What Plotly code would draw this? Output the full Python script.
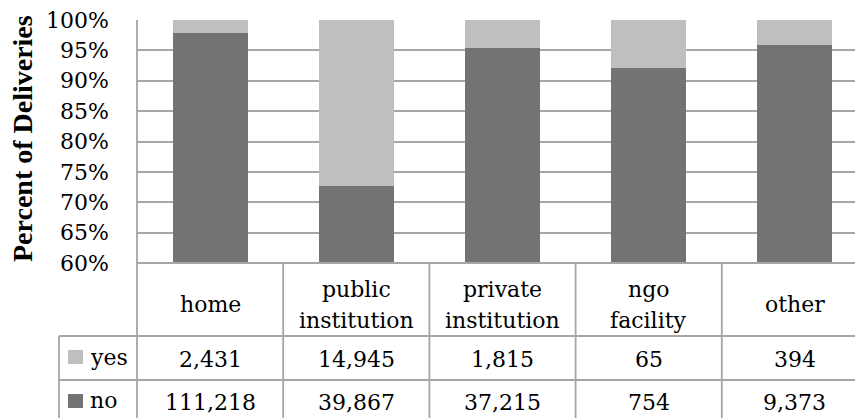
import plotly.graph_objects as go

# Delivery counts by place of delivery
categories = ["home", "public institution", "private institution", "ngo facility", "other"]
yes_counts = [2431, 14945, 1815, 65, 394]
no_counts = [111218, 39867, 37215, 754, 9373]
y_ticks = [60, 65, 70, 75, 80, 85, 90, 95, 100]

W, H = 855, 418
L, T = 137, 20          # plot area left / top (px)
BOTTOM = 263            # plot area bottom (px)
COL_W = 146.2           # width of one category column (px)
PLOT_W = W - L
PLOT_H = BOTTOM - T

NO_COLOR = "#737373"
YES_COLOR = "#bfbfbf"
LINE_COLOR = "#a6a6a6"
FONT = "DejaVu Serif"


def py(p):
    """pixel row -> paper y"""
    return (BOTTOM - p) / PLOT_H


def px(p):
    """pixel column -> paper x"""
    return (p - L) / PLOT_W


x_idx = list(range(len(categories)))

fig = go.Figure()
fig.add_trace(go.Bar(x=x_idx, y=no_counts, name="no", marker_color=NO_COLOR,
                     marker_line_width=0))
fig.add_trace(go.Bar(x=x_idx, y=yes_counts, name="yes", marker_color=YES_COLOR,
                     marker_line_width=0))

shapes = []
line = dict(color=LINE_COLOR, width=1.8)

# table: column separators
for i in range(len(categories)):
    xb = i + 0.5
    shapes.append(dict(type="line", xref="x", yref="paper", x0=xb, x1=xb,
                       y0=0, y1=py(440), line=line))
# left edge of plot + table
shapes.append(dict(type="line", xref="paper", yref="paper", x0=0, x1=0,
                   y0=1, y1=py(440), line=line))
# left edge of legend column
shapes.append(dict(type="line", xref="paper", yref="paper", x0=px(59), x1=px(59),
                   y0=py(336), y1=py(440), line=line))
# row separators
for r in (336, 380):
    shapes.append(dict(type="line", xref="paper", yref="paper", x0=px(59), x1=1.05,
                       y0=py(r), y1=py(r), line=line))
shapes.append(dict(type="line", xref="paper", yref="paper", x0=0, x1=1.05,
                   y0=0, y1=0, line=line))
# legend swatches
for color, top in ((YES_COLOR, 350), (NO_COLOR, 394)):
    shapes.append(dict(type="rect", xref="paper", yref="paper",
                       x0=px(68), x1=px(83), y0=py(top), y1=py(top + 14),
                       fillcolor=color, line_width=0))

ann = []
tfont = dict(family=FONT, size=22, color="#000000")


def cell(x, y, text, xref="x", xanchor="center"):
    ann.append(dict(x=x, y=py(y), xref=xref, yref="paper", text=text,
                    showarrow=False, font=tfont, xanchor=xanchor, yanchor="middle"))


for i, name in enumerate(categories):
    words = name.split(" ")
    if len(words) == 1:
        cell(i, 304, words[0])
    else:
        cell(i, 289, words[0])
        cell(i, 320, words[1])
    cell(i, 359, f"{yes_counts[i]:,}")
    cell(i, 402, f"{no_counts[i]:,}")
cell(px(88), 357, "yes", xref="paper", xanchor="left")
cell(px(88), 401, "no", xref="paper", xanchor="left")

# axis title
ann.append(dict(x=px(22), y=py(139), xref="paper", yref="paper",
                text="<b>Percent of Deliveries</b>", textangle=-90, showarrow=False,
                font=dict(family="Liberation Serif", size=28, color="#000000"),
                xanchor="center", yanchor="middle"))

fig.update_layout(
    width=W, height=H,
    margin=dict(l=L, r=0, t=T, b=H - BOTTOM, pad=0),
    barmode="stack", barnorm="percent", bargap=0.487,
    plot_bgcolor="white", paper_bgcolor="white",
    showlegend=False,
    shapes=shapes, annotations=ann,
    xaxis=dict(range=[-0.5, -0.5 + PLOT_W / COL_W], showticklabels=False,
               showgrid=False, zeroline=False, showline=False, ticks=""),
    yaxis=dict(range=[60, 100], tickvals=y_ticks,
               ticktext=[f"{v}%" for v in y_ticks],
               showgrid=True, gridcolor=LINE_COLOR, gridwidth=1.8,
               zeroline=False, showline=False, ticks="",
               ticklabelstandoff=27,
               tickfont=dict(family=FONT, size=22, color="#000000")),
)

fig.write_html("out.html")
